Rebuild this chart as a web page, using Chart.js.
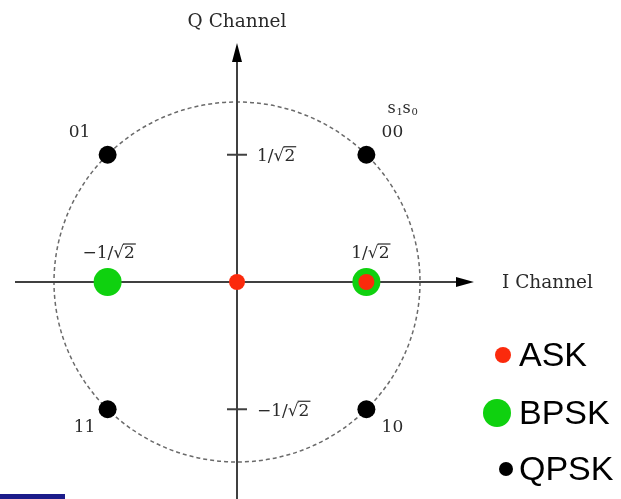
<!DOCTYPE html>
<html lang="en">
<head>
    <meta charset="UTF-8" />
    <title>Constellation</title>
    <script src="https://cdn.jsdelivr.net/npm/chart.js@4.4.1/dist/chart.umd.min.js"></script>
    <style>
        body { margin: 0; background: #fff; }
        #bar { position: absolute; left: 0; top: 494px; width: 65px; height: 5px; background: #1c1c8a; }
    </style>
</head>
<body>
    <canvas id="chart" width="621" height="499"></canvas>
    <div id="bar"></div>

    <script>
        const r = 0.707; // 1/sqrt(2)

        // constellation points (I, Q)
        const askI = [0, r];
        const askQ = [0, 0];
        const bpskI = [-r, r];
        const bpskQ = [0, 0];
        const qpskI = [-r, r, -r, r];
        const qpskQ = [r, r, -r, -r];
        const qpskBits = ['01', '00', '11', '10'];

        const legendNames = ['ASK', 'BPSK', 'QPSK'];
        const legendColors = ['#fb2a0c', '#0fd10f', '#000000'];

        function toXY(xs, ys) {
            return xs.map((x, i) => ({ x: x, y: ys[i] }));
        }

        const serif = '"DejaVu Serif", serif';

        // draws  prefix + sqrt(2) with a bar over the 2
        function rootLabel(ctx, text, x, y, align) {
            ctx.font = '17px ' + serif;
            const w = ctx.measureText(text + '2').width;
            let left = x;
            if (align === 'center') left = x - w / 2;
            ctx.textAlign = 'left';
            ctx.textBaseline = 'middle';
            ctx.fillText(text + '2', left, y);
            const wPre = ctx.measureText(text).width;
            ctx.beginPath();
            ctx.lineWidth = 1.2;
            ctx.moveTo(left + wPre - 1, y - 10);
            ctx.lineTo(left + w + 1, y - 10);
            ctx.stroke();
        }

        const diagram = {
            id: 'diagram',
            beforeDatasetsDraw(chart) {
                const ctx = chart.ctx;
                const xs = chart.scales.x, ys = chart.scales.y;
                const cx = xs.getPixelForValue(0), cy = ys.getPixelForValue(0);
                const rx = xs.getPixelForValue(1) - cx, ry = cy - ys.getPixelForValue(1);
                ctx.save();

                // unit circle
                ctx.strokeStyle = '#6a6a6a';
                ctx.lineWidth = 1.5;
                ctx.setLineDash([4, 3]);
                ctx.beginPath();
                ctx.ellipse(cx, cy, rx, ry, 0, 0, Math.PI * 2);
                ctx.stroke();
                ctx.setLineDash([]);

                // axes
                ctx.strokeStyle = '#404040';
                ctx.fillStyle = '#000';
                ctx.lineWidth = 2;
                ctx.beginPath();
                ctx.moveTo(15, cy); ctx.lineTo(460, cy);
                ctx.moveTo(cx, 499); ctx.lineTo(cx, 58);
                ctx.stroke();
                ctx.beginPath();
                ctx.moveTo(474, cy); ctx.lineTo(456, cy - 5); ctx.lineTo(456, cy + 5); ctx.closePath();
                ctx.moveTo(cx, 43); ctx.lineTo(cx - 5, 62); ctx.lineTo(cx + 5, 62); ctx.closePath();
                ctx.fill();

                // ticks on Q axis
                const tq = [r, -r];
                ctx.lineWidth = 2;
                tq.forEach(v => {
                    const py = ys.getPixelForValue(v);
                    ctx.beginPath();
                    ctx.moveTo(cx - 10, py); ctx.lineTo(cx + 10, py);
                    ctx.stroke();
                });

                ctx.fillStyle = '#2a2a2a';
                ctx.strokeStyle = '#2a2a2a';
                rootLabel(ctx, '1/√', cx + 20, ys.getPixelForValue(r) + 2, 'left');
                rootLabel(ctx, '−1/√', cx + 20, ys.getPixelForValue(-r) + 2, 'left');
                rootLabel(ctx, '−1/√', xs.getPixelForValue(-r) + 1, cy - 28, 'center');
                rootLabel(ctx, '1/√', xs.getPixelForValue(r) + 4, cy - 28, 'center');

                // axis titles
                ctx.font = '18.5px ' + serif;
                ctx.textAlign = 'center';
                ctx.textBaseline = 'middle';
                ctx.fillText('Q Channel', cx, 22);
                ctx.textAlign = 'left';
                ctx.fillText('I Channel', 502, cy + 1);

                // QPSK bit labels
                ctx.font = '17px ' + serif;
                ctx.textAlign = 'center';
                qpskBits.forEach((b, i) => {
                    const px = xs.getPixelForValue(qpskI[i]);
                    const py = ys.getPixelForValue(qpskQ[i]);
                    const dx = qpskI[i] < 0 ? (qpskQ[i] > 0 ? -28 : -23) : 26;
                    const dy = qpskQ[i] > 0 ? -22 : 18;
                    ctx.fillText(b, px + dx, py + dy);
                });
                // s1 s0 header
                const hx = xs.getPixelForValue(r) + 21, hy = ys.getPixelForValue(r) - 46;
                ctx.font = '16px ' + serif;
                ctx.textAlign = 'left';
                ctx.fillText('s', hx, hy);
                ctx.font = '10px ' + serif;
                ctx.fillText('1', hx + 9, hy + 4);
                ctx.font = '16px ' + serif;
                ctx.fillText('s', hx + 15, hy);
                ctx.font = '10px ' + serif;
                ctx.fillText('0', hx + 24, hy + 4);
                ctx.restore();
            },
            afterDatasetsDraw(chart) {
                const ctx = chart.ctx;
                ctx.save();
                const rows = [355, 413, 469];
                const dots = [[503, 8], [497, 14], [506, 7]];
                legendNames.forEach((name, i) => {
                    ctx.fillStyle = legendColors[i];
                    ctx.beginPath();
                    ctx.arc(dots[i][0], rows[i], dots[i][1], 0, Math.PI * 2);
                    ctx.fill();
                    ctx.fillStyle = '#000';
                    ctx.font = '34px "Liberation Sans", Arial, sans-serif';
                    ctx.textAlign = 'left';
                    ctx.textBaseline = 'middle';
                    ctx.fillText(name, 519, rows[i] + 2);
                });
                ctx.restore();
            }
        };

        const ctx = document.getElementById('chart').getContext('2d');
        const myChart = new Chart(ctx, {
            type: 'scatter',
            data: {
                datasets: [{
                    label: 'ASK',
                    data: toXY(askI, askQ),
                    backgroundColor: legendColors[0],
                    borderWidth: 0,
                    pointRadius: 8
                }, {
                    label: 'BPSK',
                    data: toXY(bpskI, bpskQ),
                    backgroundColor: legendColors[1],
                    borderWidth: 0,
                    pointRadius: 14
                }, {
                    label: 'QPSK',
                    data: toXY(qpskI, qpskQ),
                    backgroundColor: legendColors[2],
                    borderWidth: 0,
                    pointRadius: 9
                }]
            },
            options: {
                responsive: false,
                animation: false,
                devicePixelRatio: 1,
                layout: { padding: 0, autoPadding: false },
                plugins: { legend: { display: false }, tooltip: { enabled: false } },
                scales: {
                    x: { type: 'linear', display: false, min: -237 / 183, max: 384 / 183 },
                    y: { type: 'linear', display: false, min: -217 / 180, max: 282 / 180 }
                }
            },
            plugins: [diagram]
        });
    </script>
</body>
</html>
